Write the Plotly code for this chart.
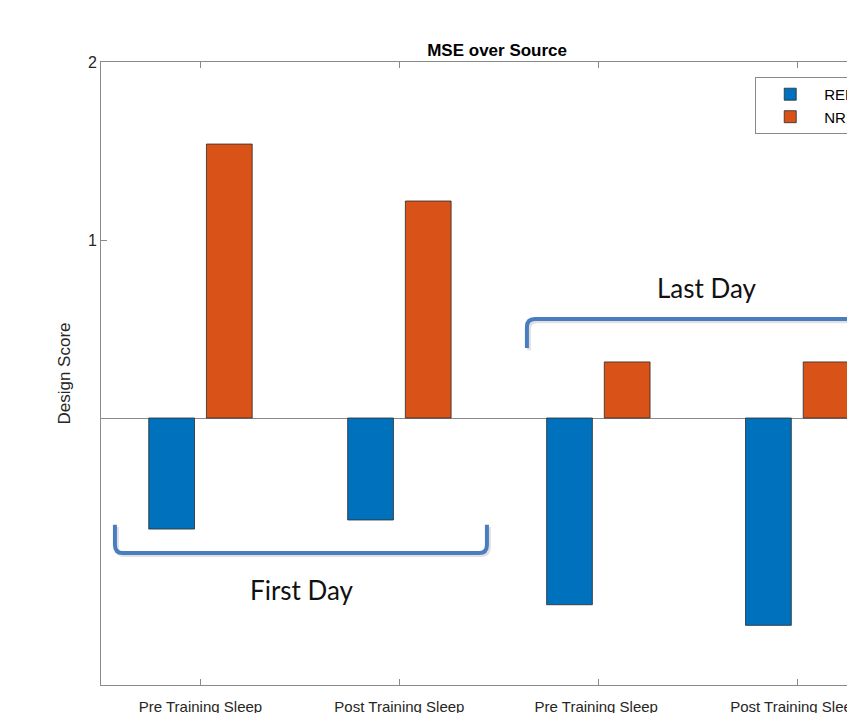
import plotly.graph_objects as go

categories = ["Pre Training Sleep", "Post Training Sleep", "Pre Training Sleep ", "Post Training Sleep "]
cat_pos = [1, 2, 3, 4]
rem_values = [-0.624, -0.573, -1.049, -1.165]
nrem_values = [1.539, 1.219, 0.315, 0.315]
series_names = ["REM", "NREM"]
y_tick_vals = [1, 2]
y_tick_text = ["1", "2"]

BLUE = "#0072BD"
ORANGE = "#D95319"
AXIS = "#8a8a8a"
TEXT = "#262626"
BRACKET = "#4a7cc0"

fig = go.Figure()
fig.add_trace(go.Bar(x=cat_pos, y=rem_values, name=series_names[0], width=0.23, offset=-0.26,
                     marker=dict(color=BLUE, line=dict(color="#2a2a2a", width=0.8))))
fig.add_trace(go.Bar(x=cat_pos, y=nrem_values, name=series_names[1], width=0.23, offset=0.03,
                     marker=dict(color=ORANGE, line=dict(color="#2a2a2a", width=0.8))))

# Brackets (annotation graphics) in data coordinates
def bracket_path(x0, x1, ytip, ybar, rx, ry, open_right=False):
    sgn = 1 if ybar > ytip else -1
    p = f"M {x0},{ytip} L {x0},{ybar - sgn*ry} Q {x0},{ybar} {x0+rx},{ybar} "
    if open_right:
        p += f"L {x1},{ybar}"
    else:
        p += f"L {x1-rx},{ybar} Q {x1},{ybar} {x1},{ybar - sgn*ry} L {x1},{ytip}"
    return p

first_day = dict(x0=0.57, x1=2.44, ytip=-0.60, ybar=-0.758)
last_day = dict(x0=2.641, x1=4.6, ytip=0.393, ybar=0.556)
rx, ry = 0.04, 0.045
for b, openr in [(first_day, False), (last_day, True)]:
    fig.add_shape(type="path", xref="x", yref="y",
                  path=bracket_path(b["x0"] + 0.01, b["x1"] + 0.01, b["ytip"] - 0.012, b["ybar"] - 0.012, rx, ry, openr),
                  line=dict(color="rgba(0,0,0,0.12)", width=4))
    fig.add_shape(type="path", xref="x", yref="y",
                  path=bracket_path(b["x0"], b["x1"], b["ytip"], b["ybar"], rx, ry, openr),
                  line=dict(color=BRACKET, width=4))

fig.add_annotation(x=1.51, y=-0.966, xref="x", yref="y", text="First Day", showarrow=False,
                   font=dict(family="Lato", size=26, color="#111"))
fig.add_annotation(x=3.545, y=0.730, xref="x", yref="y", text="Last Day", showarrow=False,
                   font=dict(family="Lato", size=26, color="#111"))

fig.update_layout(
    width=847, height=713,
    margin=dict(l=101, r=0, t=62, b=28, autoexpand=False),
    paper_bgcolor="white", plot_bgcolor="white",
    font=dict(family="Liberation Sans", color=TEXT),
    title=dict(text="<b>MSE over Source</b>", x=0.531, xref="paper", xanchor="center",
               y=1, yref="paper", yanchor="bottom", pad=dict(b=6),
               font=dict(family="Liberation Sans", size=17, color="#000")),
    showlegend=True,
    legend=dict(x=0.877, y=0.976, xanchor="left", yanchor="top", bordercolor=AXIS, borderwidth=1,
                bgcolor="white", font=dict(size=15, color="#000"), tracegroupgap=0,
                itemwidth=58),
    xaxis=dict(range=[0.5, 4.25], tickvals=cat_pos, ticktext=categories, ticks="inside", ticklen=6,
               tickcolor=AXIS, showline=True, linecolor=AXIS, linewidth=1, mirror="ticks",
               showgrid=False, zeroline=False, tickfont=dict(size=15, color=TEXT), automargin=False,
               ticklabeloverflow="allow", ticklabelstandoff=8),
    yaxis=dict(range=[-1.5, 2], tickvals=y_tick_vals, ticktext=y_tick_text, ticks="inside", ticklen=6,
               tickcolor=AXIS, showline=True, linecolor=AXIS, linewidth=1, mirror=False,
               showgrid=False, zeroline=True, zerolinecolor=AXIS, zerolinewidth=1,
               tickfont=dict(size=16, color=TEXT), automargin=False,
               title=dict(text="Design Score", font=dict(size=17, color=TEXT), standoff=12)),
)

fig.write_html("out.html", config={"displayModeBar": False},
               post_script="document.body.style.margin='0';document.body.style.overflow='hidden';")
